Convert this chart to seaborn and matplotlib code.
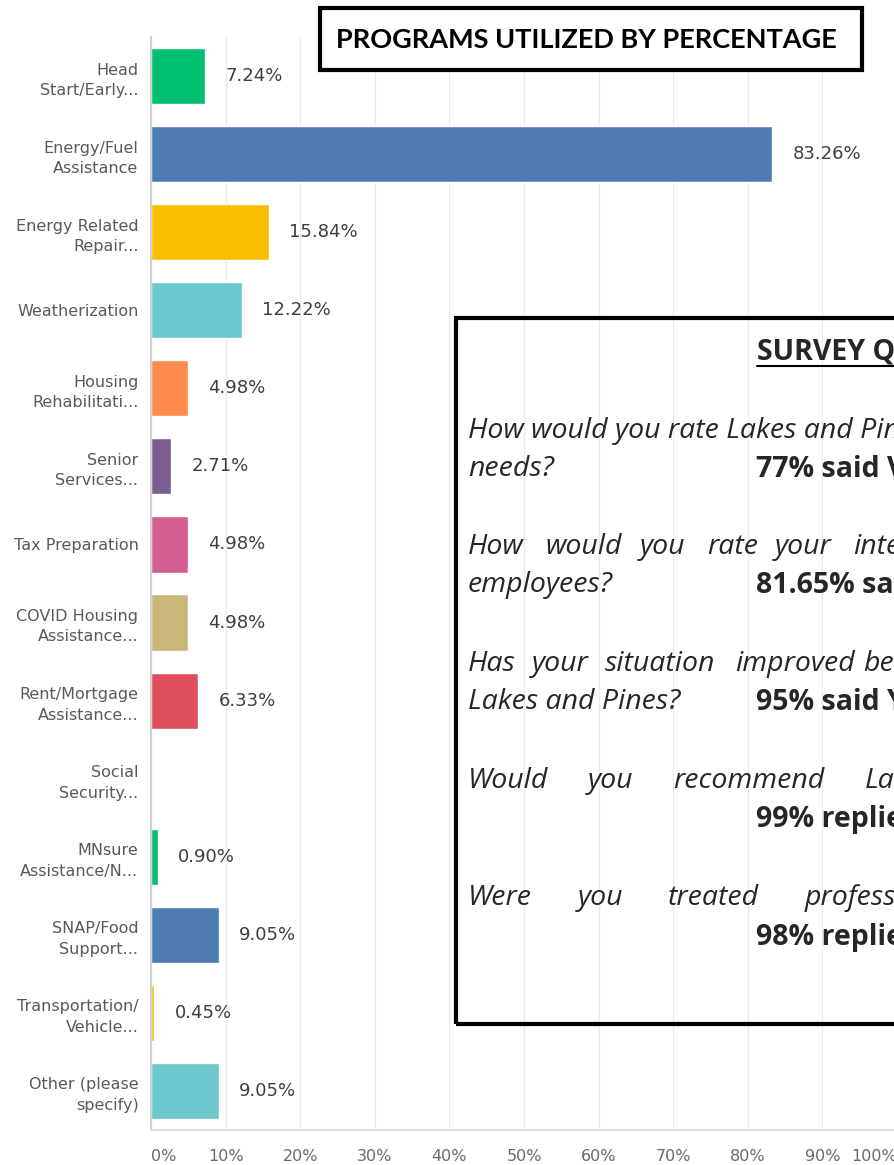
import numpy as np
import pandas as pd
import seaborn as sns
import matplotlib.pyplot as plt
from matplotlib.patches import Rectangle
from matplotlib.lines import Line2D

programs = ["Head\nStart/Early...", "Energy/Fuel\nAssistance", "Energy Related\nRepair...",
            "Weatherization", "Housing\nRehabilitati...", "Senior\nServices...",
            "Tax Preparation", "COVID Housing\nAssistance...", "Rent/Mortgage\nAssistance...",
            "Social\nSecurity...", "MNsure\nAssistance/N...", "SNAP/Food\nSupport...",
            "Transportation/\nVehicle...", "Other (please\nspecify)"]
pcts = [7.24, 83.26, 15.84, 12.22, 4.98, 2.71, 4.98, 4.98, 6.33, 0.0, 0.90, 9.05, 0.45, 9.05]
colors = ["#00BF6F", "#507CB6", "#F9BE00", "#6BC8CD", "#FF8B4F", "#7D5E90", "#D25F90",
          "#C9B77A", "#DE4E5C", "#A8A8A8", "#00BF6F", "#507CB6", "#F9BE00", "#6BC8CD"]
ticks = list(range(0, 101, 10))

W, H = 895, 1165
sns.set_style("white")
plt.rcParams['font.family'] = ['DejaVu Sans']

fig = plt.figure(figsize=(W/100, H/100), dpi=100)
ax = fig.add_axes([151/W, 35/H, 746/W, (1130-37)/H])

df = pd.DataFrame({'program': programs, 'pct': pcts})
sns.barplot(data=df, y='program', x='pct', hue='program', palette=colors, legend=False,
            ax=ax, width=0.72, saturation=1, orient='h')

ax.set_xlim(0, 100)
ax.set_ylim(len(programs)-0.5, -0.5)
ax.set_xlabel('')
ax.set_ylabel('')
ax.set_xticks(ticks)
ax.set_xticklabels([f"{t}%" for t in ticks], fontsize=11.5, color='#6a6a6a')
lbls = ax.get_xticklabels()
lbls[0].set_ha('left')
lbls[-1].set_ha('right')
ax.tick_params(axis='x', length=0, pad=14)
ax.tick_params(axis='y', length=0, pad=9, labelsize=11.5, labelcolor='#555a60')
for t in ax.get_yticklabels():
    t.set_linespacing(1.45)
ax.xaxis.grid(True, color='#ebebeb', lw=1)
ax.set_axisbelow(True)
for s in ['top', 'right']:
    ax.spines[s].set_visible(False)
ax.spines['left'].set_color('#d0d0d0')
ax.spines['left'].set_linewidth(1.5)
ax.spines['bottom'].set_color('#e0e0e0')
ax.spines['bottom'].set_linewidth(1.5)

for i, v in enumerate(pcts):
    if v > 0:
        ax.text(v + 2.7, i, f"{v:.2f}%", va='center', ha='left', fontsize=13, color='#3a3f45')


def px(x, y):
    return x / W, 1 - y / H

# title box
fig.patches.append(Rectangle(px(320, 70), 542/W, 62/H, transform=fig.transFigure,
                             facecolor='white', edgecolor='black', lw=3, zorder=5))
fig.text(*px(586, 40), "PROGRAMS UTILIZED BY PERCENTAGE", ha='center', va='center',
         fontsize=19.5, fontweight='bold', family='Lato', color='black', zorder=6)

# survey box
fig.patches.append(Rectangle(px(456, 1024), 700/W, 706/H, transform=fig.transFigure,
                             facecolor='none', edgecolor='black', lw=3, zorder=5))
fs = 20.5
sfont = 'Open Sans'
fig.text(*px(757, 352), "SURVEY QUESTIONS", ha='left', va='center', fontsize=fs,
         fontweight='bold', family=sfont, zorder=6)
fig.lines.append(Line2D([757/W, 1.0], [1-366/H, 1-366/H], transform=fig.transFigure,
                        color='black', lw=1.5))

rows = [
    (431, [(468, "How would you rate Lakes and Pines in meeting your", 'italic')]),
    (469, [(468, "needs?", 'italic'), (756, "77% said Very Good", 'bold')]),
    (547, [(468, "How", 'italic'), (545, "would", 'italic'), (640, "you", 'italic'),
           (707, "rate", 'italic'), (775, "your", 'italic'), (853, "interactions", 'italic')]),
    (585, [(468, "employees?", 'italic'), (756, "81.65% said Very Good", 'bold')]),
    (664, [(468, "Has", 'italic'), (532, "your", 'italic'), (605, "situation", 'italic'),
           (735, "improved", 'italic'), (863, "because", 'italic')]),
    (702, [(468, "Lakes and Pines?", 'italic'), (756, "95% said Yes", 'bold')]),
    (781, [(468, "Would", 'italic'), (588, "you", 'italic'), (673, "recommend", 'italic'),
           (865, "Lakes", 'italic')]),
    (820, [(756, "99% replied Yes", 'bold')]),
    (898, [(468, "Were", 'italic'), (578, "you", 'italic'), (668, "treated", 'italic'),
           (805, "professionally", 'italic')]),
    (937, [(756, "98% replied Yes", 'bold')]),
]
for y, items in rows:
    for x, s, st in items:
        if st == 'italic':
            fig.text(*px(x, y), s, ha='left', va='center', fontsize=fs, style='italic',
                     family=sfont, zorder=6)
        else:
            fig.text(*px(x, y), s, ha='left', va='center', fontsize=fs, fontweight='bold',
                     family=sfont, zorder=6)

fig.savefig('out.png', dpi=100)
